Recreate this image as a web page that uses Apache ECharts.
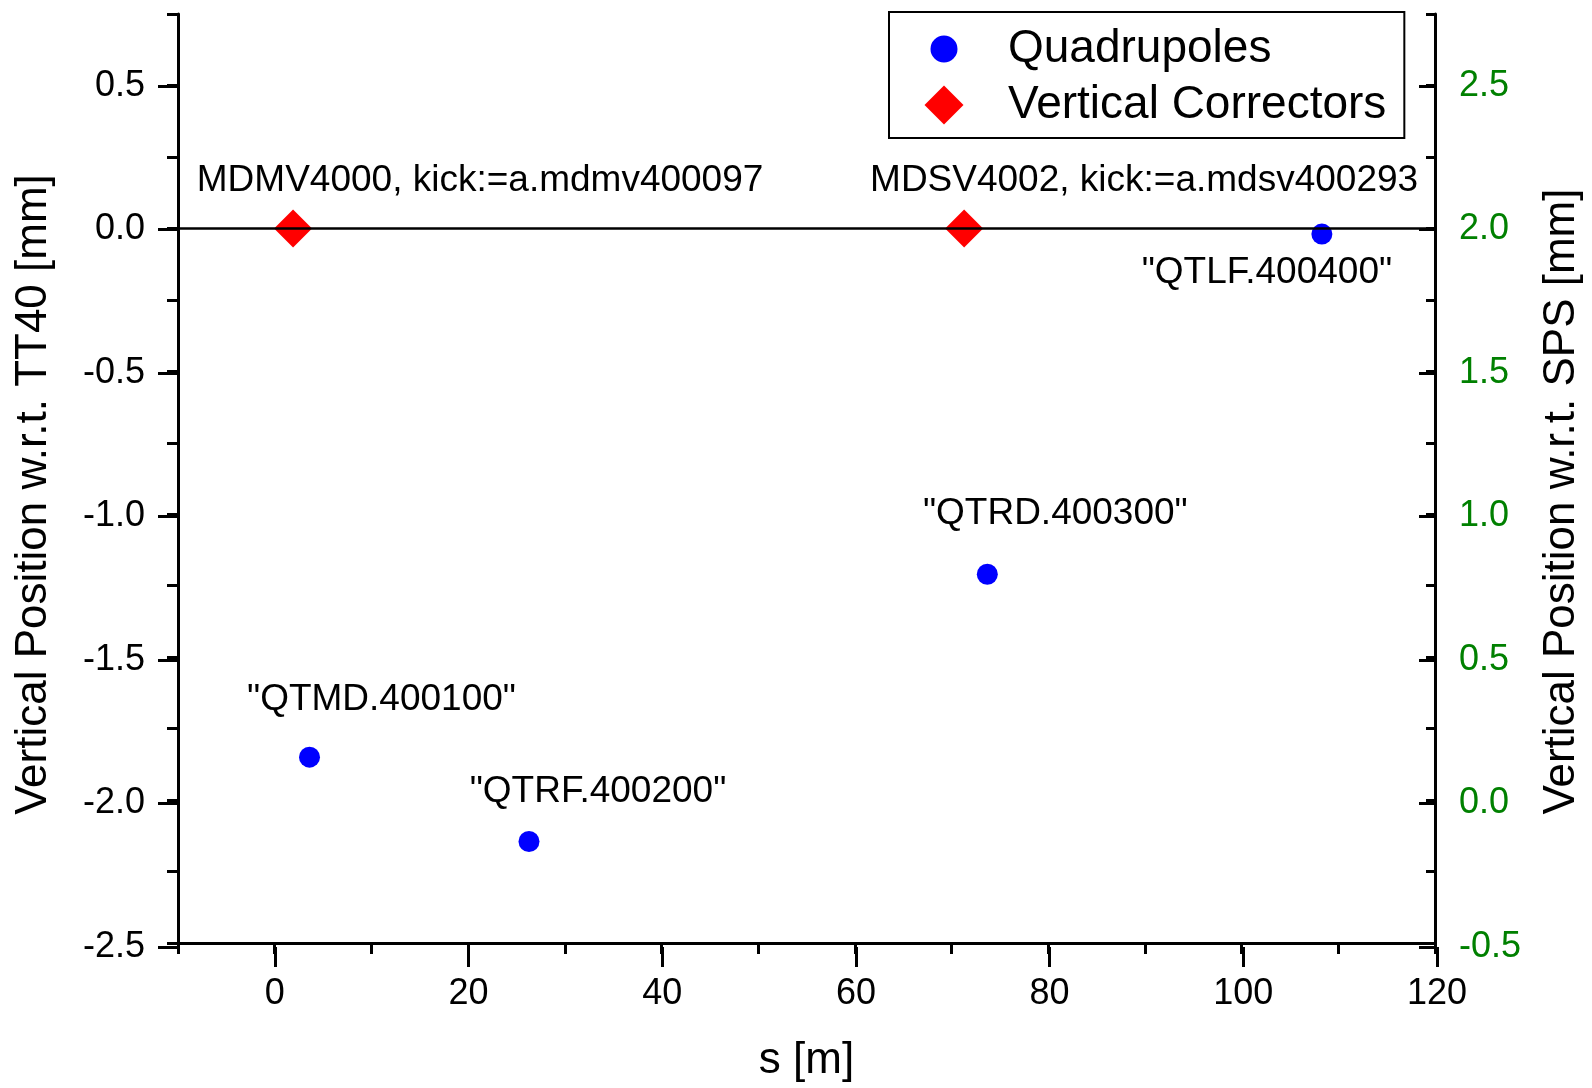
<!DOCTYPE html>
<html>
<head>
<meta charset="utf-8">
<script src="https://cdn.jsdelivr.net/npm/echarts@6/dist/echarts.min.js"></script>
<style>
html, body { margin: 0; padding: 0; background: #fff; }
#chart { width: 1592px; height: 1088px; }
</style>
</head>
<body>
<div id="chart"></div>
<script>
// quadrupoles
const quadS = [3.6, 26.3, 73.7, 108.3];
const quadY = [-1.85, -2.145, -1.21, -0.02];
const quadNames = ['"QTMD.400100"', '"QTRF.400200"', '"QTRD.400300"', '"QTLF.400400"'];
// vertical correctors
const corrS = [1.9, 71.3];
const corrY = [0, 0];
const corrNames = ['MDMV4000, kick:=a.mdmv400097', 'MDSV4002, kick:=a.mdsv400293'];
// legend
const seriesNames = ['Quadrupoles', 'Vertical Correctors'];

// where each annotation sits relative to its marker (px)
const quadLabelOffset = [[72, -57], [69, -50], [68, -60], [-55, 39]];
const corrLabelOffset = [[187, -48], [180, -48]];

const font = "'Liberation Sans', Arial, sans-serif";
const black = '#000';
const axisLine = { show: true, onZero: false, lineStyle: { color: black, width: 3 } };
const tickStyle = { color: black, width: 3 };

// plot frame
const gL = 178, gR = 155, gT = 14, gB = 141;
const pxX = (1592 - gL - gR) / 130;   // px per metre, axis -10..120
const pxY = (1088 - gT - gB) / 3.25;  // px per mm, axis -2.5..0.75

function fmt(v) { return v.toFixed(1); }

// legend icons in a 39px box (dots in the corners keep the circle smaller)
const circleIcon = 'path://M6,19.5 A13.5,13.5 0 1,1 33,19.5 A13.5,13.5 0 1,1 6,19.5 Z M0,0 L0.05,0 L0,0.05 Z M39,39 L38.95,39 L39,38.95 Z';
const diamondIcon = 'path://M19.5,0 L39,19.5 L19.5,39 L0,19.5 Z';

const chart = echarts.init(document.getElementById('chart'));

const option = {
  animation: false,
  textStyle: { fontFamily: font },
  grid: [
    { left: gL, right: gR, top: gT, bottom: gB },
    // labelled x ticks 0..120
    { left: gL + 10 * pxX, right: gR, top: gT, bottom: gB },
    // labelled y ticks -2.5..0.5
    { left: gL, right: gR, top: gT + 0.25 * pxY, bottom: gB }
  ],
  legend: {
    data: [
      { name: seriesNames[0], icon: circleIcon },
      { name: seriesNames[1], icon: diamondIcon }
    ],
    orient: 'vertical',
    left: 889,
    top: 12,
    itemWidth: 50,
    itemHeight: 39,
    itemGap: 10,
    padding: [14, 18, 10, 35.5],
    borderColor: black,
    borderWidth: 2,
    backgroundColor: '#fff',
    textStyle: { fontSize: 46, color: black, fontFamily: font, padding: [0, 0, 0, 34] }
  },
  xAxis: [
    {
      gridIndex: 0, type: 'value', min: -10, max: 120, interval: 10, position: 'bottom',
      axisLine: axisLine,
      axisTick: { show: true, length: 11, lineStyle: tickStyle },
      axisLabel: { show: false },
      splitLine: { show: false },
      name: 's [m]', nameLocation: 'middle', nameGap: 96,
      nameTextStyle: { fontSize: 44, color: black, fontFamily: font }
    },
    {
      gridIndex: 1, type: 'value', min: 0, max: 120, interval: 20, position: 'bottom',
      axisLine: { show: false, onZero: false },
      axisTick: { show: true, length: 20, lineStyle: tickStyle },
      axisLabel: { fontSize: 36, color: black, margin: 29, fontFamily: font },
      splitLine: { show: false }
    },
    {
      gridIndex: 2, type: 'value', min: -10, max: 120, show: false
    }
  ],
  yAxis: [
    {
      gridIndex: 0, type: 'value', min: -2.5, max: 0.75, interval: 0.25, position: 'left',
      axisLine: axisLine,
      axisTick: { show: true, length: 11, lineStyle: tickStyle },
      axisLabel: { show: false },
      splitLine: { show: false },
      name: 'Vertical Position w.r.t. TT40 [mm]', nameLocation: 'middle', nameGap: 122,
      nameTextStyle: { fontSize: 44, color: black, fontFamily: font, padding: [0, 32, 0, 0] }
    },
    {
      gridIndex: 0, type: 'value', min: -0.5, max: 2.75, interval: 0.25, position: 'right',
      axisLine: axisLine,
      axisTick: { show: true, inside: true, length: 9, lineStyle: tickStyle },
      axisLabel: { show: false },
      splitLine: { show: false },
      name: 'Vertical Position w.r.t. SPS [mm]', nameLocation: 'middle', nameGap: 105,
      nameTextStyle: { fontSize: 44, color: black, fontFamily: font, padding: [0, 46, 0, 0] }
    },
    {
      gridIndex: 2, type: 'value', min: -2.5, max: 0.5, interval: 0.5, position: 'left',
      axisLine: { show: false, onZero: false },
      axisTick: { show: true, length: 20, lineStyle: tickStyle },
      axisLabel: { fontSize: 36, color: black, margin: 33, formatter: fmt, fontFamily: font },
      splitLine: { show: false }
    },
    {
      gridIndex: 2, type: 'value', min: -0.5, max: 2.5, interval: 0.5, position: 'right',
      axisLine: { show: false, onZero: false },
      axisTick: { show: true, inside: true, length: 18, lineStyle: tickStyle },
      axisLabel: { fontSize: 36, color: '#008000', margin: 22, formatter: fmt, fontFamily: font },
      splitLine: { show: false }
    },
    {
      gridIndex: 1, type: 'value', min: -2.5, max: 0.75, show: false
    }
  ],
  series: [
    {
      name: seriesNames[0],
      type: 'scatter',
      xAxisIndex: 0, yAxisIndex: 0,
      symbol: 'circle',
      symbolSize: 21,
      itemStyle: { color: '#0000ff', opacity: 1 },
      data: quadS.map((s, i) => ({
        value: [s, quadY[i]],
        label: {
          show: true, position: 'inside', offset: quadLabelOffset[i],
          formatter: quadNames[i], fontSize: 37, color: black, fontFamily: font
        }
      }))
    },
    {
      name: seriesNames[1],
      type: 'scatter',
      xAxisIndex: 0, yAxisIndex: 0,
      symbol: 'diamond',
      symbolSize: 38,
      itemStyle: { color: '#ff0000', opacity: 1 },
      data: corrS.map((s, i) => ({
        value: [s, corrY[i]],
        label: {
          show: true, position: 'inside', offset: corrLabelOffset[i],
          formatter: corrNames[i], fontSize: 37, color: black, fontFamily: font
        }
      })),
      markLine: {
        silent: true,
        symbol: ['none', 'none'],
        label: { show: false },
        lineStyle: { color: black, width: 2.5, type: 'solid', opacity: 1 },
        data: [{ yAxis: 0 }]
      }
    }
  ]
};

chart.setOption(option);
</script>
</body>
</html>
